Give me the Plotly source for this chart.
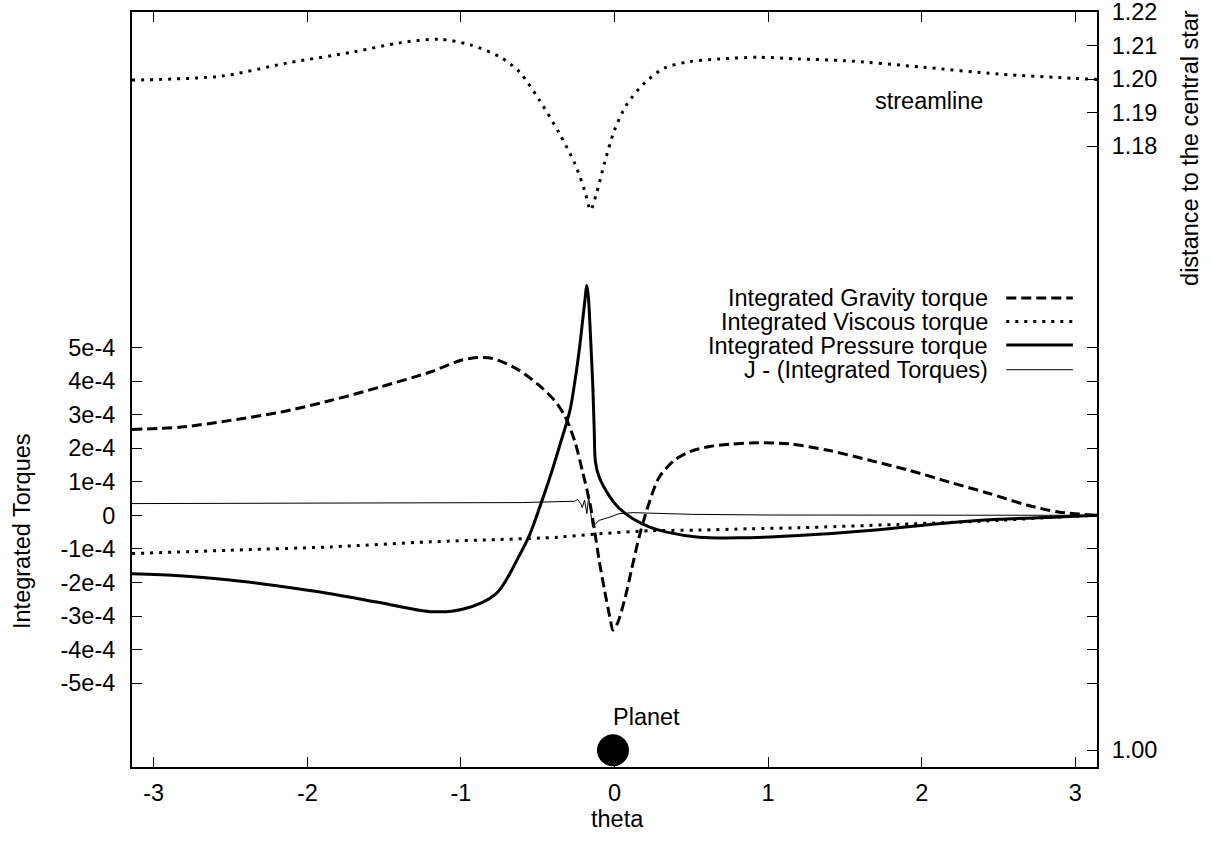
import plotly.graph_objects as go

PI = 3.14159265

# ---------------- data ----------------
# Integrated gravity torque (units of 1e-4)
theta_grav = [-PI, -2.82, -2.5, -2.18, -1.85, -1.53, -1.2, -1.0, -0.9, -0.8, -0.75, -0.62, -0.49,
              -0.39, -0.32, -0.26, -0.21, -0.16, -0.13, -0.10, -0.065, -0.03, -0.01, 0.02, 0.065,
              0.11, 0.16, 0.21, 0.29, 0.39, 0.49, 0.62, 0.75, 0.94, 1.14, 1.40, 1.66, 1.92, 2.18,
              2.44, 2.69, 2.89, PI]
grav_e4 = [2.56, 2.63, 2.83, 3.07, 3.42, 3.82, 4.27, 4.62, 4.70, 4.68, 4.61, 4.32, 3.87,
           3.42, 2.93, 2.23, 1.34, 0.36, -0.45, -1.34, -2.23, -3.04, -3.42, -3.21, -2.53,
           -1.64, -0.65, 0.15, 1.13, 1.64, 1.90, 2.05, 2.12, 2.16, 2.13, 1.93, 1.64, 1.34, 0.99,
           0.65, 0.30, 0.10, 0.0]

# Integrated viscous torque (units of 1e-4)
theta_visc = [-PI, -2.5, -1.85, -1.2, -0.75, -0.36, -0.1, 0.23, 0.55, 0.88, 1.2, 1.85, 2.5, 2.89, PI]
visc_e4 = [-1.14, -1.04, -0.94, -0.79, -0.72, -0.65, -0.55, -0.46, -0.44, -0.40, -0.37, -0.27,
           -0.15, -0.05, 0.0]

# Integrated pressure torque (units of 1e-4)
theta_pres = [-PI, -2.83, -2.52, -2.2, -1.86, -1.53, -1.2, -0.99, -0.77, -0.62, -0.55, -0.49,
              -0.42, -0.36, -0.29, -0.26, -0.23, -0.195, -0.18, -0.17, -0.156, -0.141, -0.132,
              -0.124, -0.1, -0.03, 0.03, 0.12, 0.23, 0.34, 0.55, 0.81, 1.2, 1.66, 2.11, 2.5, 2.89, PI]
pres_e4 = [-1.74, -1.80, -1.92, -2.10, -2.33, -2.60, -2.87, -2.80, -2.33, -1.2, -0.55, 0.2,
           1.14, 2.03, 3.13, 3.93, 4.91, 6.31, 6.85, 6.5, 5.31, 3.82, 2.53,
           1.59, 1.14, 0.55, 0.21, -0.10, -0.35, -0.50, -0.65, -0.67, -0.60, -0.45, -0.25, -0.12,
           -0.05, 0.0]

# J - (Integrated torques) (units of 1e-4)
theta_j = [-PI, -1.5, -0.6, -0.26, -0.24, -0.22, -0.21, -0.195, -0.18, -0.168, -0.156, -0.143,
           -0.123, -0.10, -0.03, 0.03, 0.12, 0.5, 1.0, 2.0, PI]
j_e4 = [0.35, 0.36, 0.38, 0.42, 0.47, 0.35, 0.23, 0.45, 0.05, 0.55, 0.05, -0.35,
        -0.25, -0.15, -0.05, 0.05, 0.08, 0.03, 0.01, 0.0, 0.0]

# streamline: distance to the central star
theta_stream = [-PI, -2.56, -2.13, -1.70, -1.40, -1.14, -0.94, -0.75, -0.62, -0.49, -0.36, -0.26,
                -0.195, -0.156, -0.117, -0.065, 0.0, 0.078, 0.195, 0.325, 0.487, 0.68, 0.94, 1.2,
                1.5, 2.0, 2.5, 3.0, PI]
r_stream = [1.1997, 1.2009, 1.2048, 1.2081, 1.2108, 1.2119, 1.2102, 1.2067, 1.2022, 1.1938,
            1.1839, 1.1750, 1.1669, 1.1610, 1.1660, 1.1750, 1.1848, 1.1923, 1.1988, 1.2033,
            1.2052, 1.2060, 1.2065, 1.2060, 1.2055, 1.2036, 1.2015, 1.2002, 1.1999]

planet_theta = [-0.01]
planet_r = [1.00]

left_tickvals = [-5e-4, -4e-4, -3e-4, -2e-4, -1e-4, 0, 1e-4, 2e-4, 3e-4, 4e-4, 5e-4]
left_ticktext = ["-5e-4", "-4e-4", "-3e-4", "-2e-4", "-1e-4", "0", "1e-4", "2e-4", "3e-4", "4e-4", "5e-4"]
right_tickvals = [1.00, 1.18, 1.19, 1.20, 1.21, 1.22]
right_ticktext = ["1.00", "1.18", "1.19", "1.20", "1.21", "1.22"]
x_tickvals = [-3, -2, -1, 0, 1, 2, 3]
x_ticktext = ["-3", "-2", "-1", "0", "1", "2", "3"]

legend_names = ["Integrated Gravity torque", "Integrated Viscous torque",
                "Integrated Pressure torque", "J - (Integrated Torques)"]

# ---------------- styles ----------------
FONT = "Liberation Sans, Arial, Helvetica, sans-serif"
FS = 23.5
DASH = "10px,5px"
DOT = "3px,6px"
styles = [dict(color="black", width=3, dash=DASH),
          dict(color="black", width=3, dash=DOT),
          dict(color="black", width=3),
          dict(color="black", width=1)]
TXT = dict(size=FS, color="black", family=FONT)

fig = go.Figure()
fig.add_trace(go.Scatter(x=theta_grav, y=[v * 1e-4 for v in grav_e4], mode="lines",
                         line=dict(shape="spline", smoothing=0.8, **styles[0]), name=legend_names[0]))
fig.add_trace(go.Scatter(x=theta_visc, y=[v * 1e-4 for v in visc_e4], mode="lines",
                         line=dict(shape="spline", smoothing=0.8, **styles[1]), name=legend_names[1]))
fig.add_trace(go.Scatter(x=theta_pres, y=[v * 1e-4 for v in pres_e4], mode="lines",
                         line=dict(shape="spline", smoothing=0.9, **styles[2]), name=legend_names[2]))
fig.add_trace(go.Scatter(x=theta_j, y=[v * 1e-4 for v in j_e4], mode="lines",
                         line=styles[3], name=legend_names[3]))
fig.add_trace(go.Scatter(x=theta_stream, y=r_stream, yaxis="y2", mode="lines",
                         line=dict(shape="spline", smoothing=0.8, color="black", width=3, dash=DOT),
                         name="streamline"))
fig.add_trace(go.Scatter(x=planet_theta, y=planet_r, yaxis="y2", mode="markers",
                         marker=dict(size=32, color="black", line=dict(width=0)), name="Planet"))

# gnuplot-style legend: text right-aligned, sample to the right
leg_y = [0.6212, 0.5901, 0.5589, 0.5262]
for name, st, yy in zip(legend_names, styles, leg_y):
    fig.add_annotation(x=0.888, y=yy, xref="paper", yref="paper", text=name, showarrow=False,
                       xanchor="right", yanchor="middle", height=23, borderpad=0,
                       valign="bottom", yshift=-2, font=TXT)
    fig.add_shape(type="line", xref="paper", yref="paper", x0=0.906, x1=0.975, y0=yy, y1=yy,
                  line=st)

fig.add_annotation(x=2.05, y=1.1935, xref="x", yref="y2", text="streamline", showarrow=False,
                   xanchor="center", yanchor="middle", font=TXT)
fig.add_annotation(x=0.21, y=1.010, xref="x", yref="y2", text="Planet", showarrow=False,
                   xanchor="center", yanchor="middle", font=TXT)
fig.add_annotation(x=0.5026, y=-0.0689, xref="paper", yref="paper", text="theta", showarrow=False,
                   xanchor="center", yanchor="middle", font=TXT)
fig.add_annotation(x=-0.114, y=0.3126, xref="paper", yref="paper", text="Integrated Torques",
                   showarrow=False, textangle=-90, xanchor="center", yanchor="middle", font=TXT)
fig.add_annotation(x=1.0964, y=0.82, xref="paper", yref="paper", text="distance to the central star",
                   showarrow=False, textangle=-90, xanchor="center", yanchor="middle", font=TXT)

axis_common = dict(showgrid=False, zeroline=False, showline=True, linecolor="black", linewidth=2,
                   ticks="inside", ticklen=10, tickwidth=1, tickcolor="black", automargin=False,
                   ticklabeloverflow="allow", tickfont=TXT)

fig.update_layout(
    width=1212, height=841,
    margin=dict(l=132, r=115, t=12, b=74, pad=0),
    paper_bgcolor="white", plot_bgcolor="white",
    showlegend=False,
    font=dict(family=FONT, size=FS, color="black"),
    xaxis=dict(range=[-PI, PI], tickvals=x_tickvals, ticktext=x_ticktext, mirror="ticks",
               ticklabelstandoff=4, **axis_common),
    yaxis=dict(range=[-7.5e-4, 1.5e-3], tickvals=left_tickvals, ticktext=left_ticktext,
               mirror="ticks", ticklabelstandoff=10, **axis_common),
    yaxis2=dict(range=[0.995, 1.22], tickvals=right_tickvals, ticktext=right_ticktext,
                overlaying="y", side="right", ticklabelstandoff=8, **axis_common),
)

fig.write_html("out.html")
